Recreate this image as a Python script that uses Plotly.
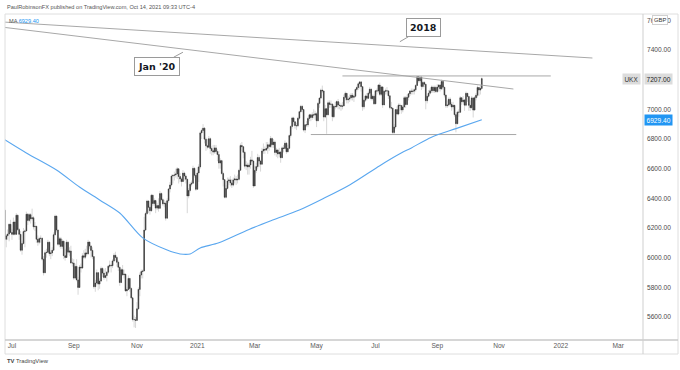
import pandas as pd
import plotly.graph_objects as go

# ---------------- data (FTSE 100 / UKX daily) ----------------
holidays = ["2020-08-31", "2020-12-25", "2020-12-28", "2021-01-01", "2021-04-02", "2021-04-05",
            "2021-05-03", "2021-05-31", "2021-08-30", "2021-12-27", "2021-12-28", "2022-01-03"]

opens = [
    6320, 6124, 6147, 6159, 6225,
    6170, 6157, 6240, 6157, 6286, 6189, 6157, 6050, 6095, 6176, 6180, 6293, 6251, 6290, 6262, 6269, 6208, 6211, 6124, 6104, 6129, 6131, 5990,
    5898, 6033, 6036, 6104, 6027, 6032, 6050, 6154, 6280, 6186, 6090, 6127, 6076, 6111, 6013, 6001, 6104, 6037, 6045, 5964,
    5964, 5862, 5941, 5850, 5799, 5937, 5930, 6012, 6003, 6032, 6026, 6105, 6078, 6049, 6007, 5804, 5829, 5899, 5822, 5842, 5927, 5896,
    5866, 5879, 5902, 5942, 5949, 5946, 5978, 6016, 6001, 5969, 5935, 5832, 5919, 5884, 5889, 5776, 5785, 5860, 5792, 5729, 5583, 5582,
    5577, 5655, 5786, 5883, 5906, 5910, 6186, 6297, 6382, 6339, 6316, 6421, 6365, 6385, 6334, 6351, 6333, 6432, 6391, 6363, 6367,
    6266, 6384, 6463, 6490, 6550, 6555, 6558, 6564, 6599, 6547, 6531, 6513, 6570, 6550, 6529, 6416, 6453, 6495, 6502, 6602, 6555,
    6461, 6571, 6612, 6841, 6857, 6873, 6799, 6754, 6745, 6802, 6736, 6721, 6712, 6740, 6715, 6695, 6638, 6654, 6567, 6526,
    6407, 6467, 6517, 6524, 6504, 6489, 6524, 6531, 6524, 6528, 6589, 6756, 6748, 6710, 6617, 6624, 6612, 6625, 6659, 6651,
    6483, 6588, 6614, 6675, 6651, 6630, 6719, 6730, 6725, 6737, 6761, 6749, 6803, 6762, 6779, 6709, 6726, 6699, 6712, 6674, 6740, 6736, 6772,
    6714, 6737, 6823, 6885, 6942, 6916, 6890, 6889, 6940, 6984, 7020, 6999, 6860, 6896, 6895, 6938, 6963, 6945, 6963, 6961,
    6970, 6923, 7040, 7076, 7130, 7124, 6948, 7004, 6963, 7044, 7033, 7035, 6950, 7020, 7018, 7052, 7029, 7026, 7020,
    7023, 7081, 7108, 7064, 7069, 7077, 7095, 7081, 7088, 7134, 7147, 7172, 7185, 7153, 7017, 7062, 7090, 7074, 7109, 7136, 7072, 7088,
    7037, 7125, 7123, 7164, 7101, 7151, 7030, 7122, 7125, 7124, 7091, 7012, 7008, 6844, 6881, 6998, 6968, 7028, 7025, 6996, 7016, 7078,
    7032, 7081, 7105, 7124, 7120, 7123, 7132, 7161, 7220, 7193, 7218, 7154, 7181, 7169, 7058, 7088, 7109, 7125, 7150, 7125, 7148,
    7120, 7150, 7164, 7138, 7188, 7149, 7096, 7024, 7029, 7068, 7034, 7016, 7027, 6964, 6903, 6981, 6980, 7078, 7051, 7063, 7028, 7108,
    7086, 7027, 7011, 7077, 6995, 7078, 7095, 7147, 7130, 7141,
]
highs = [
    6325, 6160, 6190, 6230, 6255,
    6195, 6270, 6250, 6300, 6290, 6200, 6180, 6110, 6200, 6190, 6310, 6300, 6300, 6300, 6330, 6280, 6240, 6215, 6150, 6140, 6150, 6135, 6010,
    6050, 6060, 6120, 6110, 6050, 6070, 6170, 6290, 6285, 6190, 6140, 6140, 6125, 6115, 6060, 6120, 6110, 6070, 6080, 5995,
    5990, 5960, 5990, 5870, 5950, 5960, 6030, 6050, 6060, 6080, 6120, 6110, 6085, 6070, 6010, 5850, 5920, 5900, 5860, 5940, 5935, 5920,
    5930, 5910, 5950, 5980, 5960, 5990, 6030, 6040, 6010, 5980, 5940, 5930, 5950, 5920, 5890, 5800, 5880, 5860, 5800, 5730, 5610, 5600,
    5700, 5800, 5900, 5920, 5920, 6275, 6310, 6390, 6385, 6350, 6430, 6425, 6400, 6390, 6370, 6400, 6450, 6440, 6400, 6390, 6380,
    6400, 6470, 6510, 6560, 6560, 6580, 6600, 6610, 6600, 6570, 6540, 6590, 6580, 6560, 6530, 6470, 6510, 6520, 6620, 6610, 6560,
    6610, 6630, 6850, 6870, 6900, 6880, 6810, 6800, 6820, 6810, 6750, 6760, 6760, 6760, 6730, 6720, 6670, 6660, 6580, 6530,
    6490, 6540, 6540, 6550, 6530, 6540, 6560, 6550, 6560, 6600, 6770, 6780, 6750, 6720, 6650, 6640, 6640, 6680, 6720, 6660,
    6620, 6640, 6700, 6690, 6660, 6740, 6770, 6750, 6780, 6780, 6770, 6820, 6810, 6800, 6790, 6740, 6730, 6740, 6720, 6750, 6760, 6790, 6780,
    6760, 6830, 6890, 6950, 6950, 6920, 6910, 6950, 6990, 7030, 7030, 7000, 6900, 6920, 6950, 6970, 6970, 6980, 7000, 6990,
    6980, 7050, 7080, 7140, 7160, 7125, 7030, 7010, 7060, 7060, 7060, 7040, 7030, 7050, 7060, 7070, 7050, 7040, 7050,
    7100, 7120, 7110, 7090, 7100, 7110, 7110, 7100, 7140, 7160, 7180, 7190, 7190, 7155, 7070, 7100, 7110, 7120, 7150, 7140, 7100, 7100,
    7130, 7140, 7170, 7180, 7160, 7155, 7130, 7140, 7150, 7130, 7095, 7050, 7010, 6900, 7000, 7020, 7040, 7040, 7030, 7030, 7090, 7090,
    7100, 7110, 7130, 7140, 7140, 7140, 7170, 7225, 7224, 7224, 7220, 7190, 7190, 7170, 7100, 7130, 7140, 7160, 7160, 7160, 7160,
    7170, 7170, 7170, 7200, 7195, 7150, 7100, 7060, 7080, 7080, 7050, 7050, 7030, 6970, 6990, 7000, 7090, 7080, 7090, 7070, 7120, 7110,
    7090, 7060, 7090, 7080, 7090, 7110, 7160, 7150, 7160, 7216,
]
lows = [
    6115, 6070, 6120, 6110, 6165,
    6120, 6150, 6150, 6157, 6180, 6120, 6040, 6020, 6090, 6070, 6180, 6220, 6240, 6230, 6250, 6190, 6180, 6100, 6080, 6090, 6100, 5980, 5880,
    5898, 6000, 6030, 6010, 5990, 6010, 6050, 6150, 6170, 6080, 6070, 6060, 6060, 5990, 5980, 6001, 6020, 6010, 5960, 5940,
    5850, 5860, 5840, 5750, 5799, 5900, 5925, 5990, 5990, 6010, 6020, 6060, 6000, 5990, 5790, 5770, 5820, 5780, 5790, 5840, 5870, 5850,
    5860, 5840, 5890, 5930, 5900, 5930, 5970, 5980, 5940, 5910, 5810, 5830, 5880, 5860, 5770, 5740, 5780, 5770, 5720, 5570, 5530, 5526,
    5577, 5650, 5740, 5860, 5860, 5910, 6180, 6290, 6300, 6290, 6310, 6350, 6350, 6300, 6320, 6310, 6330, 6380, 6350, 6340, 6250,
    6266, 6370, 6440, 6480, 6500, 6520, 6540, 6530, 6500, 6510, 6480, 6510, 6520, 6500, 6300, 6400, 6440, 6480, 6500, 6540, 6450,
    6461, 6510, 6600, 6800, 6840, 6770, 6720, 6730, 6740, 6700, 6690, 6690, 6700, 6700, 6650, 6600, 6600, 6560, 6480, 6400,
    6400, 6460, 6490, 6480, 6470, 6480, 6500, 6490, 6500, 6520, 6589, 6720, 6670, 6600, 6590, 6560, 6560, 6600, 6640, 6470,
    6483, 6570, 6600, 6610, 6580, 6630, 6700, 6700, 6720, 6700, 6720, 6740, 6740, 6740, 6690, 6680, 6670, 6680, 6640, 6670, 6710, 6730, 6700,
    6710, 6737, 6810, 6870, 6890, 6870, 6860, 6880, 6930, 6980, 6980, 6850, 6840, 6880, 6880, 6920, 6920, 6930, 6940, 6930,
    6880, 6920, 7010, 7070, 7110, 6920, 6940, 6835, 6960, 7010, 7010, 6920, 6940, 7000, 7010, 7000, 7000, 6990, 7000,
    7023, 7060, 7040, 7040, 7050, 7060, 7060, 7050, 7080, 7120, 7130, 7140, 7120, 6990, 7000, 7050, 7060, 7070, 7100, 7060, 7060, 7030,
    7037, 7100, 7110, 7090, 7090, 7010, 7030, 7100, 7100, 7070, 7000, 7000, 6830, 6830, 6870, 6960, 6960, 6990, 6970, 6980, 7010, 7010,
    7032, 7060, 7090, 7100, 7100, 7100, 7120, 7160, 7180, 7180, 7130, 7140, 7150, 7000, 7040, 7080, 7100, 7110, 7110, 7110, 7110,
    7110, 7120, 7120, 7130, 7130, 7080, 7010, 7010, 7020, 7020, 6990, 7000, 6950, 6845, 6900, 6950, 6980, 7030, 7040, 6990, 7020, 7050,
    6990, 6990, 7000, 6945, 6995, 7060, 7080, 7090, 7100, 7141,
]
closes = [
    6124, 6147, 6159, 6225, 6170,
    6157, 6240, 6157, 6286, 6189, 6157, 6050, 6095, 6176, 6180, 6293, 6251, 6290, 6262, 6269, 6208, 6211, 6124, 6104, 6129, 6131, 5990, 5898,
    6033, 6036, 6104, 6027, 6032, 6050, 6154, 6280, 6186, 6090, 6127, 6076, 6111, 6013, 6001, 6104, 6037, 6045, 5964, 5964,
    5862, 5941, 5850, 5799, 5937, 5930, 6012, 6003, 6032, 6026, 6105, 6078, 6049, 6007, 5804, 5829, 5899, 5822, 5842, 5927, 5896, 5866,
    5879, 5902, 5942, 5949, 5946, 5978, 6016, 6001, 5969, 5935, 5832, 5919, 5884, 5889, 5776, 5785, 5860, 5792, 5729, 5583, 5582, 5577,
    5655, 5786, 5883, 5906, 5910, 6186, 6297, 6382, 6339, 6316, 6421, 6365, 6385, 6334, 6351, 6333, 6432, 6391, 6363, 6367, 6266,
    6384, 6463, 6490, 6550, 6555, 6558, 6564, 6599, 6547, 6531, 6513, 6570, 6550, 6529, 6416, 6453, 6495, 6502, 6602, 6555, 6461,
    6571, 6612, 6841, 6857, 6873, 6799, 6754, 6745, 6802, 6736, 6721, 6712, 6740, 6715, 6695, 6638, 6654, 6567, 6526, 6407,
    6467, 6517, 6524, 6504, 6489, 6524, 6531, 6524, 6528, 6589, 6756, 6748, 6710, 6617, 6624, 6612, 6625, 6659, 6651, 6483,
    6588, 6614, 6675, 6651, 6630, 6719, 6730, 6725, 6737, 6761, 6749, 6803, 6762, 6779, 6709, 6726, 6699, 6712, 6674, 6740, 6736, 6772, 6714,
    6737, 6823, 6885, 6942, 6916, 6890, 6889, 6940, 6984, 7020, 6999, 6860, 6896, 6895, 6938, 6963, 6945, 6963, 6961, 6970,
    6923, 7040, 7076, 7130, 7124, 6948, 7004, 6963, 7044, 7033, 7035, 6950, 7020, 7018, 7052, 7029, 7026, 7020, 7023,
    7081, 7108, 7064, 7069, 7077, 7095, 7081, 7088, 7134, 7147, 7172, 7185, 7153, 7017, 7062, 7090, 7074, 7109, 7136, 7072, 7088, 7037,
    7125, 7123, 7164, 7101, 7151, 7030, 7122, 7125, 7124, 7091, 7012, 7008, 6844, 6881, 6998, 6968, 7028, 7025, 6996, 7016, 7078, 7032,
    7081, 7105, 7124, 7120, 7123, 7132, 7161, 7220, 7193, 7218, 7154, 7181, 7169, 7058, 7088, 7109, 7125, 7150, 7125, 7148, 7120,
    7150, 7164, 7138, 7188, 7149, 7096, 7024, 7029, 7068, 7034, 7016, 7027, 6964, 6903, 6981, 6980, 7078, 7051, 7063, 7028, 7108, 7086,
    7027, 7011, 7077, 6995, 7078, 7095, 7147, 7130, 7141, 7207,
]

# 200-day moving average
ma_dates = ["2020-06-24", "2020-07-15", "2020-08-13", "2020-09-07", "2020-09-25", "2020-10-15",
            "2020-11-06", "2020-12-01", "2020-12-14", "2020-12-23", "2021-01-06", "2021-01-25",
            "2021-02-23", "2021-03-18", "2021-04-15", "2021-05-11", "2021-06-07", "2021-07-06",
            "2021-07-23", "2021-08-05", "2021-08-25", "2021-09-20", "2021-10-14"]
ma_values = [6795, 6706, 6591, 6476, 6389, 6301, 6133, 6051, 6025, 6025, 6065, 6100,
             6190, 6255, 6321, 6400, 6490, 6620, 6695, 6740, 6812, 6870, 6929.40]

# hand-drawn trend lines (date, price end points)
line_2018_x = ["2020-06-24", "2022-02-03"]
line_2018_y = [7588, 7346]
line_jan20_x = ["2020-06-24", "2021-11-15"]
line_jan20_y = [7552, 7137]
resist_x = ["2021-05-28", "2021-12-21"]
resist_y = [7225, 7225]
support_x = ["2021-04-27", "2021-11-17"]
support_y = [6830, 6830]

tick_dates = ["2020-07-01", "2020-09-01", "2020-11-02", "2021-01-04", "2021-03-01", "2021-05-04",
              "2021-07-01", "2021-09-01", "2021-11-01", "2022-01-04", "2022-03-01"]
tick_labels = ["Jul", "Sep", "Nov", "2021", "Mar", "May", "Jul", "Sep", "Nov", "2022", "Mar"]

# ---------------- figure ----------------
all_days = pd.bdate_range("2020-06-24", "2021-10-14")
dates = [d for d in all_days if d.strftime("%Y-%m-%d") not in holidays]
n = min(len(dates), len(opens), len(highs), len(lows), len(closes))
dates, o, h, l, c = dates[:n], opens[:n], highs[:n], lows[:n], closes[:n]
body_hi = [max(a, b) for a, b in zip(o, c)]
body_lo = [min(a, b) for a, b in zip(o, c)]

WICK = "#cdcdcd"
BODY = "#303030"
LINE = "#a8a8a8"
FONT = "Liberation Sans"

fig = go.Figure()
for xs, ys in [(line_2018_x, line_2018_y), (line_jan20_x, line_jan20_y),
               (resist_x, resist_y), (support_x, support_y)]:
    fig.add_trace(go.Scatter(x=xs, y=ys, mode="lines", line=dict(color=LINE, width=1),
                             hoverinfo="skip", showlegend=False))

fig.add_trace(go.Candlestick(
    x=dates, open=o, high=h, low=l, close=c, whiskerwidth=0,
    increasing=dict(line=dict(color=WICK, width=0.8), fillcolor=WICK),
    decreasing=dict(line=dict(color=WICK, width=0.8), fillcolor=WICK),
    hoverinfo="skip", showlegend=False))
fig.add_trace(go.Candlestick(
    x=dates, open=o, high=body_hi, low=body_lo, close=c, whiskerwidth=0,
    increasing=dict(line=dict(color=BODY, width=0.5), fillcolor=BODY),
    decreasing=dict(line=dict(color=BODY, width=0.5), fillcolor=BODY),
    hoverinfo="skip", showlegend=False))

fig.add_trace(go.Scatter(x=ma_dates, y=ma_values, mode="lines",
                         line=dict(color="#5aa7ef", width=1.1, shape="spline", smoothing=0.8),
                         hoverinfo="skip", showlegend=False))

W, H = 680, 370
ML, MR, MT, MB = 5, 37, 14, 30
PW, PH = W - ML - MR, H - MT - MB


def px_x(px):
    return (px - ML) / PW


def px_y(py):
    return (H - MB - py) / PH


fig.update_layout(
    width=W, height=H, autosize=False,
    margin=dict(l=ML, r=MR, t=MT, b=MB),
    paper_bgcolor="white", plot_bgcolor="white",
    font=dict(family=FONT, size=7, color="#4a4a4a"),
    xaxis=dict(type="date", range=["2020-06-24 03:22", "2022-03-24 04:48"],
               rangebreaks=[dict(bounds=["sat", "mon"]), dict(values=holidays)],
               rangeslider=dict(visible=False),
               tickmode="array", tickvals=tick_dates, ticktext=tick_labels,
               tickfont=dict(size=6.6, color="#5a5a5a", family=FONT),
               showgrid=False, zeroline=False, showline=False, ticks=""),
    yaxis=dict(side="right", range=[5444.8, 7642.7], tick0=5600, dtick=200,
               tickformat=".2f", tickfont=dict(size=6.6, color="#4a4a4a", family=FONT),
               showgrid=False, zeroline=False, showline=False, ticks="",
               ticklabelstandoff=3),
    showlegend=False,
)

shapes = [
    dict(type="rect", xref="paper", yref="paper", x0=0, x1=px_x(678), y0=px_y(354), y1=1,
         line=dict(color="#dedede", width=1), fillcolor="rgba(0,0,0,0)", layer="above"),
    dict(type="line", xref="paper", yref="paper", x0=0, x1=px_x(678), y0=0, y1=0,
         line=dict(color="#c9c9c9", width=1.5), layer="above"),
    dict(type="line", xref="paper", yref="paper", x0=1, x1=1, y0=px_y(354), y1=1,
         line=dict(color="#cfcfcf", width=1), layer="above"),
]
fig.update_layout(shapes=shapes)

ann = []
ann.append(dict(text="PaulRobinsonFX published on TradingView.com, Oct 14, 2021 09:33 UTC-4",
                xref="paper", yref="paper", x=px_x(5), y=px_y(7), xanchor="left", yanchor="middle",
                showarrow=False, font=dict(size=5.6, color="#555555", family=FONT)))
ann.append(dict(text="MA <span style='color:#2196f3'>%.2f</span>" % ma_values[-1],
                xref="paper", yref="paper", x=px_x(7), y=px_y(21), xanchor="left", yanchor="middle",
                showarrow=False, font=dict(size=5.6, color="#555555", family=FONT)))
ann.append(dict(text="<b>TV</b> TradingView", xref="paper", yref="paper", x=px_x(5), y=px_y(361),
                xanchor="left", yanchor="middle", showarrow=False,
                font=dict(size=5.8, color="#444444", family=FONT)))
ann.append(dict(text="UKX", xref="paper", yref="y", x=px_x(641), y=c[-1], xanchor="right",
                yanchor="middle", showarrow=False, bgcolor="#dcdcdc", borderpad=1.5,
                font=dict(size=6.4, color="#333333", family=FONT)))
ann.append(dict(text="%.2f" % c[-1], xref="paper", yref="y", x=px_x(644), y=c[-1], xanchor="left",
                yanchor="middle", showarrow=False, bgcolor="#dcdcdc", borderpad=1.5,
                font=dict(size=6.6, color="#222222", family=FONT)))
ann.append(dict(text="%.2f" % ma_values[-1], xref="paper", yref="y", x=px_x(644), y=ma_values[-1],
                xanchor="left", yanchor="middle", showarrow=False, bgcolor="#2196f3", borderpad=1.5,
                font=dict(size=6.6, color="white", family=FONT)))
ann.append(dict(text="GBP", xref="paper", yref="y", x=px_x(652), y=7600, xanchor="left",
                yanchor="middle", showarrow=False, bgcolor="white", bordercolor="#d0d0d0",
                borderwidth=1, borderpad=1, font=dict(size=5.8, color="#333333", family=FONT)))
ann.append(dict(text="<b>Jan '20</b>", x="2020-12-16", y=7385, xref="x", yref="y",
                ax=-26, ay=14, axref="pixel", ayref="pixel", showarrow=True, arrowhead=0,
                arrowwidth=1, arrowcolor="#9a9a9a", bgcolor="white", bordercolor="#9a9a9a",
                borderwidth=1, borderpad=3, font=dict(size=9.5, color="#131722", family="DejaVu Sans")))
ann.append(dict(text="<b>2018</b>", x="2021-07-26", y=7456, xref="x", yref="y",
                ax=24, ay=-14, axref="pixel", ayref="pixel", showarrow=True, arrowhead=0,
                arrowwidth=1, arrowcolor="#9a9a9a", bgcolor="white", bordercolor="#9a9a9a",
                borderwidth=1, borderpad=3, font=dict(size=9.5, color="#131722", family="DejaVu Sans")))
fig.update_layout(annotations=ann)

fig.write_html("out.html", config={"displayModeBar": False},
               post_script="document.body.style.margin='0';document.body.style.padding='0';")
